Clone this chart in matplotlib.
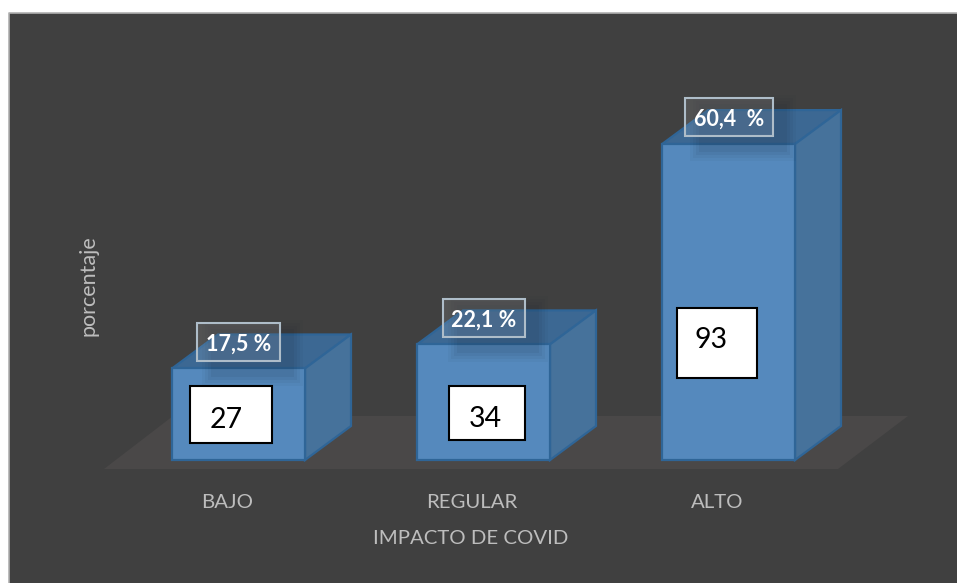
import matplotlib
matplotlib.use('Agg')
import matplotlib.pyplot as plt
from matplotlib.patches import Polygon, Rectangle
from matplotlib.transforms import Affine2D

categories = ['BAJO', 'REGULAR', 'ALTO']
percentages = [17.5, 22.1, 60.4]
counts = [27, 34, 93]
percent_labels = ['17,5 %', '22,1 %', '60,4  %']

W, H = 957, 583
plt.rcParams['font.family'] = ['Lato', 'DejaVu Sans']

fig = plt.figure(figsize=(W / 100, H / 100), dpi=100, facecolor='white')
ax = fig.add_axes([0, 0, 1, 1])

# axis scale: 245 px per category, 5.23 px per percent, baseline at y=460
px_cat = 245
px_pct = 5.23
x0 = 238.5
base = 460
ax.set_xlim(-x0 / px_cat, (W - x0) / px_cat)
ax.set_ylim(-(H - base) / px_pct, base / px_pct)
ax.axis('off')

# image pixels, y going down
px = Affine2D().scale(1, -1).translate(0, H)

# background panel runs off the right and bottom, border only on top and left
ax.add_patch(Rectangle((9, 13), W - 9, H - 13, transform=px, facecolor='#404040',
                       edgecolor='none', zorder=0))
ax.plot([9, 9, W], [H, 13, 13], transform=px, color='#b0b0b0', linewidth=1.2, zorder=0.5)
ax.add_patch(Polygon([(104, 469), (173, 416), (908, 416), (838, 469)], closed=True,
                     transform=px, facecolor='#4a4848', edgecolor='none', zorder=1))

# bars with depth
bar_w = 133 / px_cat
dx = 46 / px_cat
dy = 34 / px_pct
edge = '#2f6597'
for i, val in enumerate(percentages):
    l, r = i - bar_w / 2, i + bar_w / 2
    ax.add_patch(Polygon([(l, val), (r, val), (r + dx, val + dy), (l + dx, val + dy)], closed=True,
                         facecolor='#3c6893', edgecolor=edge, linewidth=1.6, zorder=2))
    ax.add_patch(Polygon([(r, 0), (r + dx, dy), (r + dx, val + dy), (r, val)], closed=True,
                         facecolor='#46729b', edgecolor=edge, linewidth=1.6, zorder=2))
ax.bar(range(3), percentages, width=bar_w, color='#5589bd', edgecolor=edge, linewidth=1.6, zorder=3)

# percent label boxes (pixel positions), with soft shadow underneath
pct_boxes = [(197, 323, 83, 38), (443, 299, 82, 38), (685, 98, 88, 38)]
for (bx, by, bw, bh), txt in zip(pct_boxes, percent_labels):
    for grow, a in [(9, 0.04), (6, 0.05), (3, 0.06), (0, 0.07)]:
        ax.add_patch(Rectangle((bx + 14 - grow, by + 6 - grow), bw + 2 * grow, bh + 10 + 2 * grow,
                               transform=px, facecolor='#1a2a3a', edgecolor='none', alpha=a, zorder=4))
    ax.add_patch(Rectangle((bx, by), bw, bh, transform=px, facecolor='#ffffff', alpha=0.10,
                           edgecolor='none', zorder=5))
    ax.add_patch(Rectangle((bx, by), bw, bh, transform=px, facecolor='none',
                           edgecolor='#aebdc9', linewidth=1.5, zorder=5))
    ax.text(bx + bw / 2, by + bh / 2 + 2, txt, transform=px, color='white', fontsize=15.5,
            fontweight='bold', ha='center', va='center', zorder=6)

# white count boxes
count_boxes = [(190, 386, 82, 57, 226, 420), (449, 386, 76, 54, 485, 419), (677, 308, 80, 70, 711, 340)]
for (bx, by, bw, bh, tx, ty), n in zip(count_boxes, counts):
    ax.add_patch(Rectangle((bx, by), bw, bh, transform=px, facecolor='white',
                           edgecolor='black', linewidth=1.5, zorder=6))
    ax.text(tx, ty, str(n), transform=px, color='black', fontsize=20.5,
            ha='center', va='center', zorder=7)

# axis texts
grey = '#bdbdbd'
for cx, c in zip([227, 472, 717], categories):
    ax.text(cx, 502, c, transform=px, color=grey, fontsize=14.7, ha='center', va='center')
ax.text(471, 538, 'IMPACTO DE COVID', transform=px, color=grey, fontsize=14.7, ha='center', va='center')
ax.text(88, 286, 'porcentaje', transform=px, color=grey, fontsize=15.5, rotation=90,
        ha='center', va='center')

fig.savefig('out.png', dpi=100, facecolor='white')
